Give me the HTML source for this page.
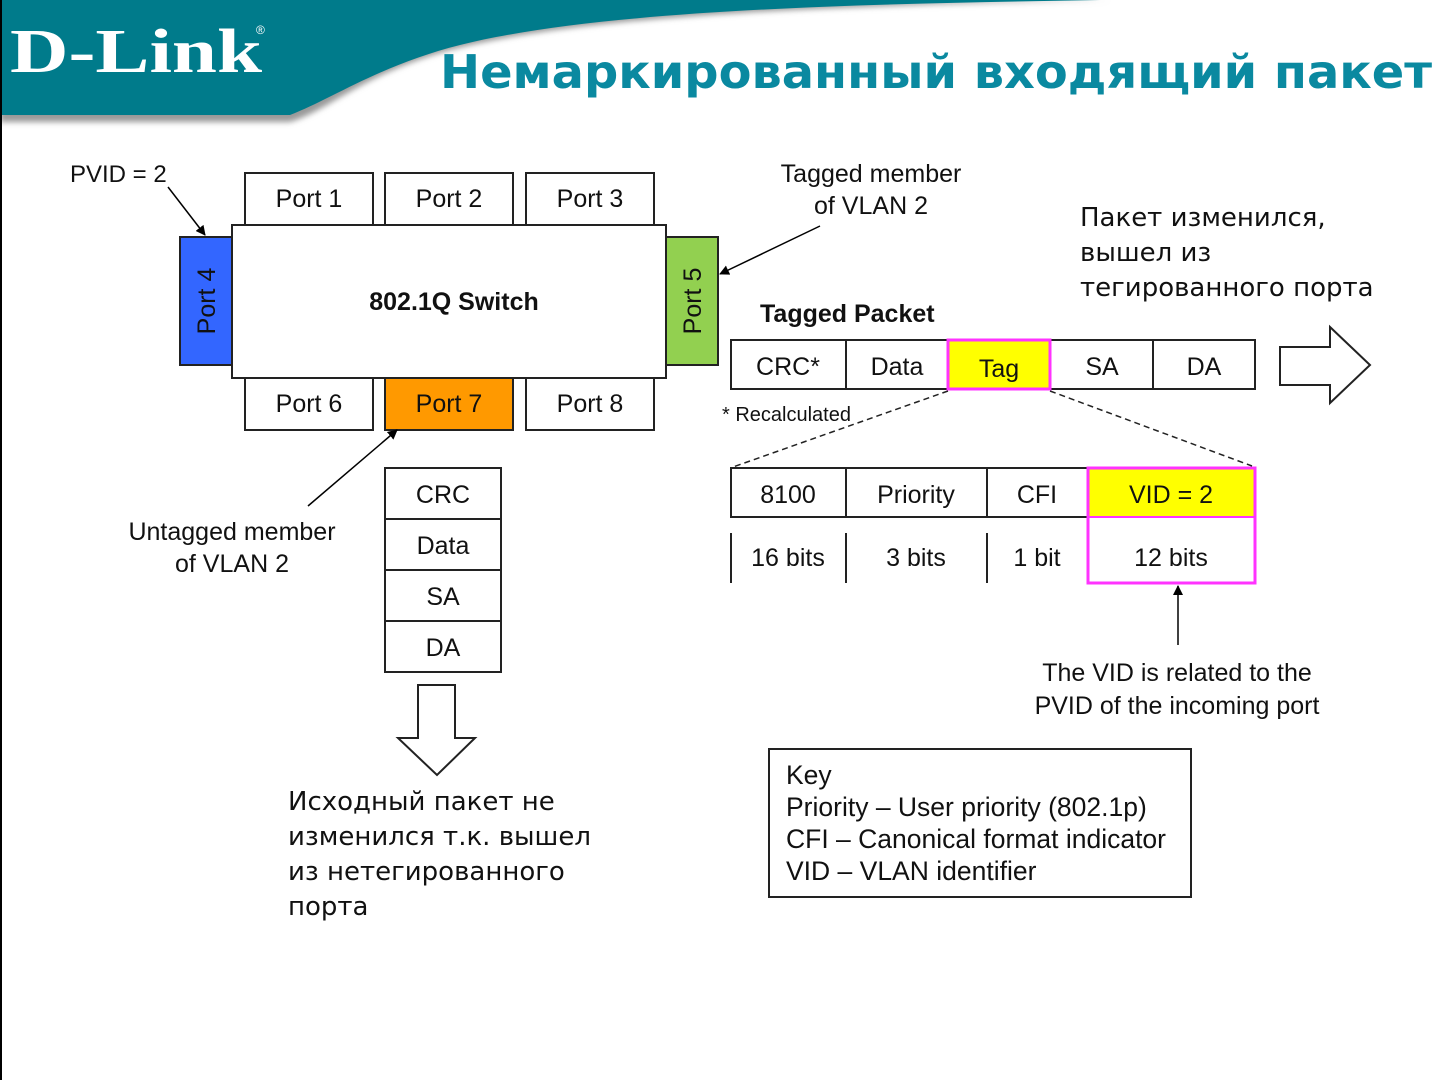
<!DOCTYPE html>
<html><head><meta charset="utf-8"><style>
html,body{margin:0;padding:0;background:#fff;}
svg{display:block;}
text{font-family:"Liberation Sans",sans-serif;fill:#111;}
.r{font-family:"DejaVu Sans",sans-serif;}
</style></head><body>
<svg width="1442" height="1080" viewBox="0 0 1442 1080" xmlns="http://www.w3.org/2000/svg">
<defs>
<marker id="ah" markerWidth="10" markerHeight="10" refX="9" refY="5" orient="auto" markerUnits="userSpaceOnUse"><path d="M0,0 L10,5 L0,10 z" fill="#000"/></marker>
<filter id="bl"><feGaussianBlur stdDeviation="3"/></filter>
</defs>
<rect x="0" y="0" width="1442" height="1080" fill="#fff"/>
<path d="M0,0 H1110 C900,5 600,10 450,50 C360,75 330,110 290,122 H0 Z" fill="#999" filter="url(#bl)"/>
<path d="M0,0 H1100 C850,4 600,10 460,45 C380,65 330,100 290,115 H0 Z" fill="#007b8b"/>
<rect x="0" y="0" width="2" height="1080" fill="#000"/>
<text x="10" y="72" style="font-family:'Liberation Serif',serif;font-weight:bold;font-size:62px;fill:#fff" textLength="252" lengthAdjust="spacingAndGlyphs">D-Link</text>
<text x="256" y="34" style="font-size:12px;fill:#fff">®</text>
<text x="440" y="88" class="r" style="font-weight:bold;font-size:46px;fill:#0a89a0" textLength="992" lengthAdjust="spacingAndGlyphs">Немаркированный входящий пакет</text>

<g stroke="#222" stroke-width="2" fill="#fff">
<rect x="245" y="173" width="128" height="52"/>
<rect x="385" y="173" width="128" height="52"/>
<rect x="526" y="173" width="128" height="52"/>
<rect x="245" y="378" width="128" height="52"/>
<rect x="385" y="378" width="128" height="52" fill="#ff9900"/>
<rect x="526" y="378" width="128" height="52"/>
<rect x="180" y="237" width="52" height="128" fill="#3366ff"/>
<rect x="666" y="237" width="52" height="128" fill="#92d050"/>
<rect x="232" y="225" width="434" height="153"/>
</g>
<g font-size="25" text-anchor="middle">
<text x="309" y="207">Port 1</text><text x="449" y="207">Port 2</text><text x="590" y="207">Port 3</text>
<text x="309" y="412">Port 6</text><text x="449" y="412">Port 7</text><text x="590" y="412">Port 8</text>
<text transform="translate(215,301) rotate(-90)">Port 4</text>
<text transform="translate(701,301) rotate(-90)">Port 5</text>
<text x="454" y="310" font-weight="bold" font-size="25">802.1Q Switch</text>
</g>
<text x="70" y="182" font-size="24">PVID = 2</text>
<line x1="168" y1="187" x2="205" y2="235" stroke="#000" stroke-width="1.5" marker-end="url(#ah)"/>
<text x="871" y="182" font-size="25" text-anchor="middle">Tagged member</text>
<text x="871" y="214" font-size="25" text-anchor="middle">of VLAN 2</text>
<line x1="820" y1="226" x2="720" y2="274" stroke="#000" stroke-width="1.5" marker-end="url(#ah)"/>
<text x="1080" y="226" class="r" font-size="26">Пакет изменился,</text>
<text x="1080" y="261" class="r" font-size="26">вышел из</text>
<text x="1080" y="296" class="r" font-size="26">тегированного порта</text>
<text x="760" y="322" font-size="25" font-weight="bold">Tagged Packet</text>

<g stroke="#222" stroke-width="2" fill="#fff">
<rect x="731" y="340" width="524" height="49"/>
<line x1="846" y1="340" x2="846" y2="389"/><line x1="1153" y1="340" x2="1153" y2="389"/>
<rect x="948" y="340" width="102" height="49" fill="#ffff00" stroke="#ff33ff" stroke-width="3"/>
<rect x="731" y="468" width="524" height="49"/>
<line x1="846" y1="468" x2="846" y2="517"/><line x1="987" y1="468" x2="987" y2="517"/>
<rect x="1088" y="468" width="167" height="49" fill="#ffff00" stroke="none"/>
<rect x="1088" y="468" width="167" height="115" fill="none" stroke="#ff33ff" stroke-width="3"/>
<line x1="1088" y1="517" x2="1255" y2="517" stroke="#ff33ff" stroke-width="2"/>
<line x1="731" y1="533" x2="731" y2="583"/><line x1="846" y1="533" x2="846" y2="583"/><line x1="987" y1="533" x2="987" y2="583"/>
<path d="M1280,347 H1330 V327 L1370,365 L1330,403 V385 H1280 Z"/>
<path d="M418,685 H455 V738 H475 L437,775 L398,738 H418 Z"/>
<rect x="385" y="468" width="116" height="204"/>
<line x1="385" y1="519" x2="501" y2="519"/><line x1="385" y1="570" x2="501" y2="570"/><line x1="385" y1="621" x2="501" y2="621"/>
<rect x="769" y="749" width="422" height="148"/>
</g>
<g stroke="#222" stroke-width="1.5" stroke-dasharray="6,4" fill="none">
<line x1="948" y1="391" x2="733" y2="467"/><line x1="1050" y1="391" x2="1252" y2="466"/>
</g>
<g font-size="25" text-anchor="middle">
<text x="788" y="375">CRC*</text><text x="897" y="375">Data</text><text x="999" y="377">Tag</text>
<text x="1102" y="375">SA</text><text x="1204" y="375">DA</text>
<text x="788" y="503">8100</text><text x="916" y="503">Priority</text><text x="1037" y="503">CFI</text>
<text x="1171" y="503">VID  = 2</text>
<text x="788" y="566">16 bits</text><text x="916" y="566">3 bits</text><text x="1037" y="566">1 bit</text><text x="1171" y="566">12 bits</text>
<text x="443" y="503">CRC</text><text x="443" y="554">Data</text><text x="443" y="605">SA</text><text x="443" y="656">DA</text>
<text x="232" y="540">Untagged member</text><text x="232" y="572">of VLAN 2</text>
<text x="1177" y="681">The VID is related to the</text><text x="1177" y="714">PVID of the incoming port</text>
</g>
<text x="722" y="421" font-size="20">* Recalculated</text>
<line x1="1178" y1="645" x2="1178" y2="586" stroke="#000" stroke-width="1.5" marker-end="url(#ah)"/>
<line x1="308" y1="506" x2="397" y2="430" stroke="#000" stroke-width="1.5" marker-end="url(#ah)"/>
<g font-size="26.5">
<text x="786" y="784">Key</text>
<text x="786" y="816">Priority – User priority (802.1p)</text>
<text x="786" y="848">CFI – Canonical format indicator</text>
<text x="786" y="880">VID – VLAN identifier</text>
</g>
<g class="r" font-size="26">
<text x="288" y="810" class="r">Исходный пакет не</text>
<text x="288" y="845" class="r">изменился т.к. вышел</text>
<text x="288" y="880" class="r">из нетегированного</text>
<text x="288" y="915" class="r">порта</text>
</g>
</svg>
</body></html>
